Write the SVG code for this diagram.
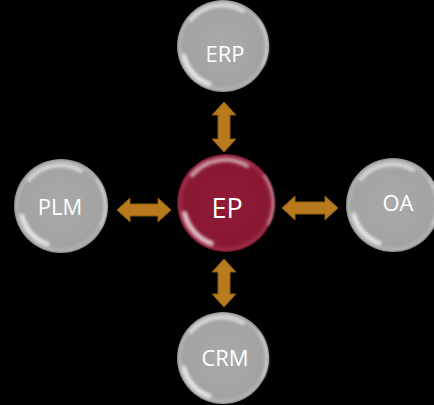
<svg xmlns="http://www.w3.org/2000/svg" width="434" height="405" viewBox="0 0 434 405">
<style>
.lbl{fill:#fff;font-family:"Open Sans","Liberation Sans",sans-serif;text-anchor:middle;dominant-baseline:central}
.arrow{fill:#b87a1c;stroke:#8a5a12;stroke-width:1}
.gray{fill:url(#gg)}
.red{fill:url(#rg)}
.hl{fill:none;stroke:#fff;stroke-linecap:round}
</style>
<defs>
<radialGradient id="gg" cx="0.5" cy="0.5" r="0.5">
<stop offset="0" stop-color="#a9a9a9"/>
<stop offset="0.85" stop-color="#a3a3a3"/>
<stop offset="0.95" stop-color="#b0b0b0"/>
<stop offset="1" stop-color="#8c8c8c"/>
</radialGradient>
<radialGradient id="rg" cx="0.5" cy="0.5" r="0.5">
<stop offset="0" stop-color="#8f1a36"/>
<stop offset="0.85" stop-color="#891833"/>
<stop offset="0.95" stop-color="#9a2c47"/>
<stop offset="1" stop-color="#6a1026"/>
</radialGradient>
<filter id="soft" x="-20%" y="-20%" width="140%" height="140%">
<feGaussianBlur stdDeviation="1.6"/>
</filter>
<g id="shine" filter="url(#soft)">
<path d="M-32,-26 A41,41 0 0 1 20,-35" class="hl" stroke-width="4" opacity="0.55"/>
<path d="M36,-26 A44,44 0 0 1 40,20" class="hl" stroke-width="2" opacity="0.55"/>
<path d="M-39,10 A40,40 0 0 0 -14,38" class="hl" stroke-width="5" opacity="0.7"/>
</g>
</defs>
<rect width="434" height="405" fill="#000"/>
<g id="connectors">
<path class="arrow" d="M224,102 L236,115 L230,115 L230,139 L236,139 L224,152 L212,139 L218,139 L218,115 L212,115 Z"/>
<path class="arrow" d="M224,259 L236,272 L230,272 L230,294 L236,294 L224,307 L212,294 L218,294 L218,272 L212,272 Z"/>
<path class="arrow" d="M117,210 L130,198 L130,204 L158,204 L158,198 L171,210 L158,222 L158,216 L130,216 L130,222 Z"/>
<path class="arrow" d="M282,208 L295,196 L295,202 L325,202 L325,196 L338,208 L325,220 L325,214 L295,214 L295,220 Z"/>
</g>
<g id="ERP">
<circle cx="223" cy="46" r="46" class="gray"/>
<use href="#shine" x="223" y="46"/>
<text x="225" y="53" class="lbl" font-size="22">ERP</text>
</g>
<g id="EP">
<circle cx="226" cy="203" r="49" class="red"/>
<g transform="translate(226,203) scale(1.06)"><use href="#shine"/></g>
<text x="227" y="207" class="lbl" font-size="27">EP</text>
</g>
<g id="PLM">
<circle cx="61" cy="206" r="47" class="gray"/>
<use href="#shine" x="61" y="206"/>
<text x="60" y="206" class="lbl" font-size="22">PLM</text>
</g>
<g id="OA">
<circle cx="393" cy="205" r="47" class="gray"/>
<use href="#shine" x="393" y="205"/>
<text x="398" y="202" class="lbl" font-size="22">OA</text>
</g>
<g id="CRM">
<circle cx="223" cy="358" r="46" class="gray"/>
<use href="#shine" x="223" y="358"/>
<text x="225" y="357" class="lbl" font-size="22">CRM</text>
</g>
</svg>
